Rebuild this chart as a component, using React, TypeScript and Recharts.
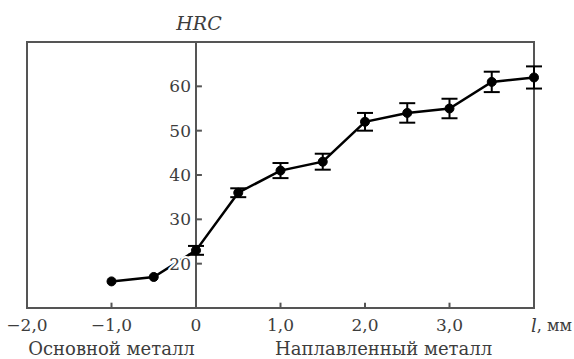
import React from "react";
import {
  LineChart,
  Line,
  XAxis,
  YAxis,
  ErrorBar,
  ReferenceLine,
  ReferenceArea,
  ReferenceDot,
} from "recharts";

// Distance from fusion line, mm
const positions = [-1, -0.5, 0, 0.5, 1, 1.5, 2, 2.5, 3, 3.5, 4];
// Hardness HRC
const hardness = [16, 17, 23, 36, 41, 43, 52, 54, 55, 61, 62];
// Error (±)
const errors = [0, 0, 1, 1, 1.7, 1.8, 2, 2.2, 2.2, 2.3, 2.5];

const xTickValues = [-2, -1, 0, 1, 2, 3, 4];
const xTickLabels = ["−2,0", "−1,0", "0", "1,0", "2,0", "3,0", "l, мм"];
const yTickValues = [20, 30, 40, 50, 60];
const xInnerTicks = [-1, 1, 2, 3];

const data = positions.map((x, i) => ({ x, y: hardness[i], err: errors[i] }));

const FONT = "'DejaVu Serif', serif";
const TEXT = "#3d3d3d";
const FRAME = "#555";

const XTick = (props: any) => {
  const { x, y, payload } = props;
  const idx = xTickValues.indexOf(payload.value);
  if (payload.value === 4) {
    return (
      <text
        x={x - 3}
        y={y + 17}
        dominantBaseline="central"
        textAnchor="start"
        fontFamily={FONT}
        fontSize={16}
        fill={TEXT}
      >
        <tspan fontStyle="italic" fontSize={18}>l</tspan>
        <tspan>, мм</tspan>
      </text>
    );
  }
  return (
    <text
      x={x}
      y={y + 17}
      dominantBaseline="central"
      textAnchor="middle"
      fontFamily={FONT}
      fontSize={17}
      fill={TEXT}
    >
      {xTickLabels[idx]}
    </text>
  );
};

export default function App() {
  return (
    <div style={{ position: "absolute", left: 0, top: 0 }}>
      <LineChart
        width={574}
        height={359}
        data={data}
        margin={{ top: 42, right: 40, left: 27, bottom: 0 }}
      >
        <XAxis
          dataKey="x"
          type="number"
          domain={[-2, 4]}
          ticks={xTickValues}
          height={51}
          axisLine={{ stroke: FRAME, strokeWidth: 2 }}
          tickLine={false}
          tickSize={0}
          tickMargin={0}
          tick={<XTick />}
          interval={0}
        />
        <YAxis type="number" domain={[10, 70]} hide />
        <ReferenceArea
          x1={-2}
          x2={4}
          y1={10}
          y2={70}
          fill="none"
          stroke={FRAME}
          strokeWidth={2}
          fillOpacity={0}
        />
        <ReferenceLine x={0} stroke={FRAME} strokeWidth={2} />
        {yTickValues.map((v) => (
          <ReferenceLine
            key={"yt" + v}
            segment={[
              { x: 0, y: v },
              { x: 0.07, y: v },
            ]}
            stroke={FRAME}
            strokeWidth={2}
          />
        ))}
        {xInnerTicks.map((v) => (
          <ReferenceLine
            key={"xt" + v}
            segment={[
              { x: v, y: 10 },
              { x: v, y: 11.2 },
            ]}
            stroke={FRAME}
            strokeWidth={2}
          />
        ))}
        <Line
          dataKey="y"
          stroke="#000"
          strokeWidth={2.5}
          dot={{ r: 4.5, fill: "#000", stroke: "#000", strokeWidth: 1 }}
          isAnimationActive={false}
        >
          <ErrorBar dataKey="err" width={8} stroke="#000" strokeWidth={2} direction="y" />
        </Line>
        {yTickValues.map((v) => (
          <ReferenceDot
            key={"yl" + v}
            x={0}
            y={v}
            r={0}
            fill="none"
            stroke="none"
            label={{
              value: String(v),
              position: "left",
              offset: 5,
              fill: TEXT,
              fontSize: 17,
              fontFamily: FONT,
              stroke: "#fff",
              strokeWidth: 4,
              paintOrder: "stroke",
            }}
          />
        ))}
        <ReferenceDot
          x={0}
          y={70}
          r={0}
          fill="none"
          stroke="none"
          label={{
            value: "HRC",
            position: "top",
            offset: 12,
            fill: TEXT,
            fontSize: 19,
            fontStyle: "italic",
            fontFamily: FONT,
            dx: 3,
          }}
        />
        <ReferenceDot
          x={-1}
          y={10}
          r={0}
          fill="none"
          stroke="none"
          label={{
            value: "Основной металл",
            position: "bottom",
            offset: 34,
            fill: TEXT,
            fontSize: 18,
            fontFamily: FONT,
          }}
        />
        <ReferenceDot
          x={2.22}
          y={10}
          r={0}
          fill="none"
          stroke="none"
          label={{
            value: "Наплавленный металл",
            position: "bottom",
            offset: 34,
            fill: TEXT,
            fontSize: 18,
            fontFamily: FONT,
          }}
        />
      </LineChart>
    </div>
  );
}
